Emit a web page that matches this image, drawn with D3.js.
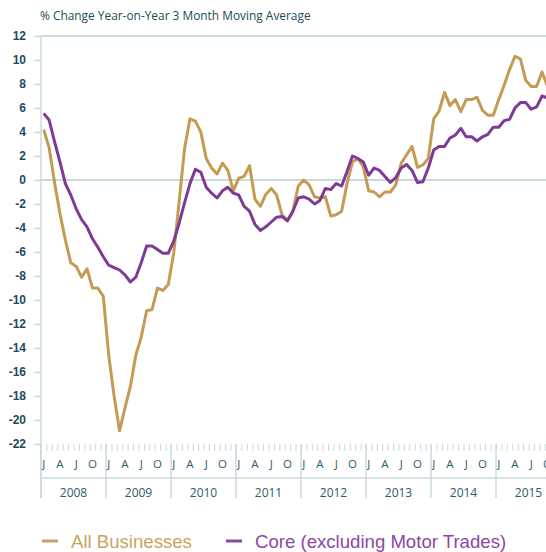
<!DOCTYPE html>
<html>
<head>
<meta charset="utf-8">
<script src="https://cdn.jsdelivr.net/npm/d3@7"></script>
<style>
  html, body { margin: 0; padding: 0; background: #fff; overflow: hidden; }
  svg { display: block; }
</style>
</head>
<body>
<svg id="chart" width="546" height="552"></svg>
<script>
// ---- data ----
const startYear = 2008;
const years = [2008, 2009, 2010, 2011, 2012, 2013, 2014, 2015];
const monthLabels = ["J", "A", "J", "O"];
const monthLabelIdx = [0, 3, 6, 9];
const yTicks = [12, 10, 8, 6, 4, 2, 0, -2, -4, -6, -8, -10, -12, -14, -16, -18, -20, -22];
const seriesNames = ["All Businesses", "Core (excluding Motor Trades)"];
const titleText = "% Change Year-on-Year 3 Month Moving Average";

// monthly values starting Jan 2008
const allBusinesses = [
  4.2, 2.7, -0.2, -2.8, -5.0, -6.9, -7.2, -8.1, -7.4, -9.0, -9.0, -9.7,
  -14.6, -18.0, -20.9, -19.0, -17.2, -14.6, -13.1, -10.9, -10.8, -9.0, -9.2, -8.7,
  -6.1, -1.8, 2.6, 5.1, 4.9, 4.0, 1.8, 1.0, 0.5, 1.4, 0.8, -0.9,
  0.15, 0.3, 1.2, -1.6, -2.2, -1.2, -0.7, -1.25, -2.9, -3.4, -2.6, -0.5,
  0.0, -0.4, -1.4, -1.5, -1.4, -3.0, -2.9, -2.6, -0.3, 1.5, 1.8, 1.1,
  -0.9, -1.0, -1.4, -1.0, -1.0, -0.4, 1.4, 2.1, 2.8, 1.05, 1.25, 1.8,
  5.1, 5.75, 7.3, 6.2, 6.7, 5.7, 6.7, 6.7, 6.9, 5.8, 5.4, 5.4,
  6.7, 7.9, 9.2, 10.3, 10.1, 8.3, 7.8, 7.8, 9.0, 7.8
];
const coreValues = [
  5.55, 5.0, 3.2, 1.5, -0.3, -1.25, -2.4, -3.3, -3.9, -4.9, -5.6, -6.4,
  -7.1, -7.3, -7.5, -7.9, -8.5, -8.1, -6.9, -5.5, -5.5, -5.8, -6.1, -6.1,
  -5.1, -3.6, -1.9, -0.3, 0.9, 0.65, -0.6, -1.1, -1.5, -0.9, -0.6, -1.1,
  -1.25, -2.2, -2.6, -3.7, -4.2, -3.9, -3.5, -3.1, -3.05, -3.4, -2.6, -1.5,
  -1.4, -1.6, -2.0, -1.7, -0.7, -0.8, -0.3, -0.5, 0.7, 2.0, 1.8, 1.5,
  0.4, 1.0, 0.8, 0.3, -0.2, 0.2, 1.0, 1.3, 0.8, -0.2, -0.15, 1.0,
  2.5, 2.8, 2.8, 3.5, 3.75, 4.3, 3.6, 3.6, 3.25, 3.6, 3.8, 4.4,
  4.4, 4.95, 5.05, 6.0, 6.45, 6.45, 5.9, 6.1, 7.0, 6.85
];

// ---- layout / style ----
const colors = ["#c49b52", "#7f3a97"];
const legendColors = ["#c9a35e", "#8c47a3"];
const axisColor = "#c8dadf";
const textColor = "#1d4b58";
const monthW = 65 / 12;
const left = 41;
const nMonths = years.length * 12;

const svg = d3.select("#chart");
const x = d3.scaleLinear().domain([0, nMonths]).range([left, left + nMonths * monthW]);
const y = d3.scaleLinear().domain([-22, 12]).range([444, 36]);

// title
svg.append("text")
  .attr("x", 40).attr("y", 20)
  .attr("font-family", "Open Sans")
  .attr("font-size", 11.9)
  .attr("fill", textColor)
  .text(titleText);

// gridlines: top & zero
svg.append("g").selectAll("line").data([12, 0]).join("line")
  .attr("x1", left).attr("x2", 546)
  .attr("y1", d => y(d)).attr("y2", d => y(d))
  .attr("stroke", axisColor).attr("stroke-width", 2);

// y axis
const yAxis = d3.axisLeft(y).tickValues(yTicks).tickSize(7).tickPadding(8).tickFormat(d3.format("d"));
const gy = svg.append("g").attr("transform", `translate(${left},0)`).call(yAxis);
gy.select(".domain").remove();
gy.selectAll(".tick line").attr("stroke", axisColor).attr("stroke-width", 1.5);
gy.selectAll(".tick text")
  .attr("font-family", "Liberation Sans, Arial, sans-serif")
  .attr("font-weight", "bold")
  .attr("font-size", 12)
  .attr("fill", textColor)
  .text(d => d < 0 ? "-" + Math.abs(d) : d);

// vertical axis line
svg.append("line")
  .attr("x1", left).attr("x2", left)
  .attr("y1", y(12)).attr("y2", 498)
  .attr("stroke", axisColor).attr("stroke-width", 1.5);

// month ticks
const xTicksAxis = d3.axisBottom(x).tickValues(d3.range(1, nMonths + 1)).tickSize(7).tickFormat("");
const gx = svg.append("g").attr("transform", `translate(0,${y(-22)})`).call(xTicksAxis);
gx.select(".domain").remove();
gx.selectAll(".tick line").attr("stroke", axisColor).attr("stroke-width", 1);

// month labels
const monthPos = [];
years.forEach((yr, k) => monthLabelIdx.forEach((m, j) => monthPos.push({ i: k * 12 + m, label: monthLabels[j] })));
svg.append("g").selectAll("text").data(monthPos).join("text")
  .attr("x", d => x(d.i + 0.5))
  .attr("y", 467.5)
  .attr("text-anchor", "middle")
  .attr("font-family", "Open Sans")
  .attr("font-size", 11.5)
  .attr("fill", "#2a5c69")
  .text(d => d.label);

// year separators
svg.append("g").selectAll("line").data(years).join("line")
  .attr("x1", (d, k) => x(k * 12)).attr("x2", (d, k) => x(k * 12))
  .attr("y1", y(-22)).attr("y2", 498)
  .attr("stroke", axisColor).attr("stroke-width", 1.5);

// separator between months and years
svg.append("line")
  .attr("x1", left).attr("x2", 546)
  .attr("y1", 478).attr("y2", 478)
  .attr("stroke", axisColor).attr("stroke-width", 1.5);

// year labels
svg.append("g").selectAll("text").data(years).join("text")
  .attr("x", (d, k) => x(k * 12 + 6))
  .attr("y", 497)
  .attr("text-anchor", "middle")
  .attr("font-family", "Open Sans")
  .attr("font-size", 12)
  .attr("fill", "#2a5c69")
  .text(d => d);

// lines
const line = d3.line().x((d, i) => x(i + 0.5)).y(d => y(d));
[allBusinesses, coreValues].forEach((s, k) => {
  svg.append("path")
    .datum(s)
    .attr("d", line)
    .attr("fill", "none")
    .attr("stroke", colors[k])
    .attr("stroke-width", 3)
    .attr("stroke-linejoin", "round");
});

// legend
const legendX = [42, 226];
const lg = svg.append("g").selectAll("g").data(seriesNames).join("g")
  .attr("transform", (d, k) => `translate(${legendX[k]},541)`);
lg.append("line").attr("x1", 0).attr("x2", 16).attr("y1", 0).attr("y2", 0)
  .attr("stroke", (d, k) => legendColors[k]).attr("stroke-width", 3);
lg.append("text").attr("x", 29).attr("y", 6.5)
  .attr("font-family", "Liberation Sans, Arial, sans-serif")
  .attr("font-size", 18.6)
  .attr("fill", (d, k) => legendColors[k])
  .text(d => d);
</script>
</body>
</html>
